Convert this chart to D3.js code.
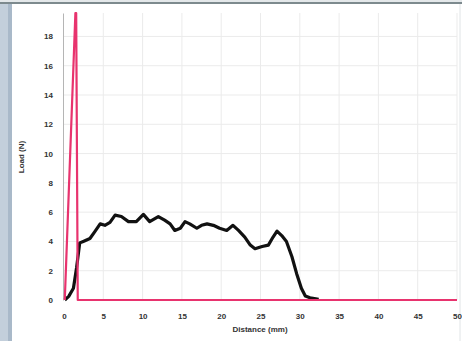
<!DOCTYPE html>
<html><head><meta charset="utf-8">
<script src="https://cdn.jsdelivr.net/npm/d3@7"></script>
<style>body{margin:0;background:#fff}svg{display:block}text{font-family:"Liberation Sans",Arial,sans-serif}</style>
</head><body><svg id="c" width="462" height="341"></svg>
<script>
const yTicks = [0,2,4,6,8,10,12,14,16,18];
const xTicks = [0,5,10,15,20,25,30,35,40,45,50];
const pinkX = [0.1, 1.45, 1.55, 1.75, 50];
const pinkY = [0, 19.6, 19.6, 0, 0];
const blackX = [0.1,0.6,1.2,1.6,2.0,2.45,3.3,3.9,4.6,5.2,5.85,6.5,7.3,8.2,9.2,10.1,10.9,12.0,12.8,13.5,14.1,14.8,15.4,16.0,16.9,17.5,18.2,19.0,19.8,20.7,21.5,22.2,23.0,23.7,24.3,25.2,26.0,26.6,27.1,27.7,28.3,29.0,29.6,30.2,30.7,31.3,32.4];
const blackY = [0,0.25,0.8,2.2,3.9,4.0,4.2,4.65,5.2,5.1,5.3,5.8,5.7,5.35,5.35,5.85,5.35,5.7,5.45,5.2,4.75,4.9,5.35,5.2,4.9,5.1,5.2,5.1,4.9,4.75,5.1,4.75,4.3,3.75,3.5,3.65,3.75,4.3,4.7,4.4,4.0,2.95,1.8,0.8,0.27,0.15,0.05];

const svg = d3.select("#c");
const x = d3.scaleLinear().domain([0,50]).range([64,457]);
const y = d3.scaleLinear().domain([0,19.6]).range([300,13]);

// frame
svg.append("rect").attr("x",0).attr("y",0).attr("width",8).attr("height",341).attr("fill","#c3cfdb");
svg.append("rect").attr("x",8).attr("y",0).attr("width",4).attr("height",341).attr("fill","#a9b9c9");
svg.append("rect").attr("x",0).attr("y",0).attr("width",462).attr("height",2).attr("fill","#e4e8ea");
svg.append("rect").attr("x",0).attr("y",2).attr("width",462).attr("height",2).attr("fill","#7d8a8e");
svg.append("line").attr("x1",460).attr("x2",460).attr("y1",4).attr("y2",341).attr("stroke","#e0e4e6");

// grid
const g = svg.append("g");
g.selectAll("line.h").data(yTicks.slice(1)).join("line")
  .attr("x1",x(0)).attr("x2",x(50)).attr("y1",d=>y(d)).attr("y2",d=>y(d))
  .attr("stroke","#ebebeb").attr("stroke-width",1);
g.selectAll("line.v").data(xTicks.slice(1)).join("line")
  .attr("x1",d=>x(d)).attr("x2",d=>x(d)).attr("y1",y(19.6)).attr("y2",y(0))
  .attr("stroke","#ebebeb").attr("stroke-width",1);

// axes
const yAxis = d3.axisLeft(y).tickValues(yTicks).tickSize(0).tickPadding(10).tickFormat(d3.format("d"));
const ya = svg.append("g").attr("transform",`translate(${x(0)-1},0)`).call(yAxis);
ya.select(".domain").attr("stroke","#b5b5b5");
ya.selectAll("text").attr("font-size",8).attr("font-weight","bold").attr("fill","#333");
const xAxis = d3.axisBottom(x).tickValues(xTicks).tickSize(0).tickPadding(13).tickFormat(d3.format("d"));
const xa = svg.append("g").attr("transform",`translate(0,${y(0)})`).call(xAxis);
xa.select(".domain").remove();
xa.selectAll("text").attr("font-size",8).attr("font-weight","bold").attr("fill","#333");

svg.append("text").attr("x",260).attr("y",332).attr("text-anchor","middle").attr("font-size",8).attr("font-weight","bold").attr("fill","#333").text("Distance (mm)");
svg.append("text").attr("transform","translate(24,157) rotate(-90)").attr("text-anchor","middle").attr("font-size",8).attr("font-weight","bold").attr("fill","#333").text("Load (N)");

const line = d3.line().x(d=>x(d[0])).y(d=>y(d[1]));
svg.append("path").datum(blackX.map((v,i)=>[v,blackY[i]])).attr("d",line)
  .attr("fill","none").attr("stroke","#111").attr("stroke-width",3.2).attr("stroke-linejoin","round");
svg.append("path").datum(pinkX.map((v,i)=>[v,pinkY[i]])).attr("d",line)
  .attr("fill","none").attr("stroke","#e8336e").attr("stroke-width",2.2).attr("stroke-linejoin","round");
</script></body></html>
